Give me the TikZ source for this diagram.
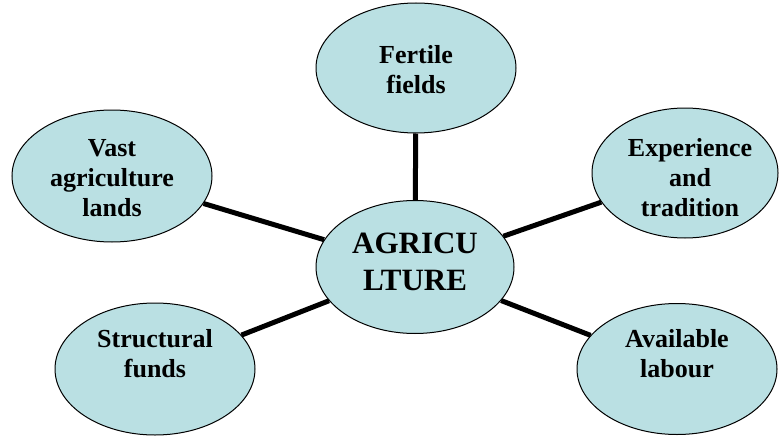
\documentclass[tikz,border=0pt]{standalone}
\usepackage{fontspec}
\setmainfont{Liberation Serif}
\usetikzlibrary{shapes.geometric}
\definecolor{bubblefill}{RGB}{186,224,227}
\tikzset{
  bubble/.style={ellipse, draw=black, line width=1pt, fill=bubblefill,
    inner sep=0pt, minimum width=200pt, minimum height=131pt},
  caption/.style={inner sep=0pt, align=center,
    font=\bfseries\fontsize{26}{30}\selectfont},
  spoke/.style={line width=5pt},
}

\begin{document}
\begin{tikzpicture}[x=1pt,y=-1pt]
  \useasboundingbox (0,0) rectangle (779,436);
  % bubbles
  \node [bubble, minimum width=198pt, minimum height=133pt] (agri) at (415,267) {};
  \node [bubble, minimum height=130pt] (fert) at (416,68) {};
  \node [bubble, minimum height=132pt] (vast) at (112,176) {};
  \node [bubble, minimum width=186pt, minimum height=130pt] (expe) at (685,173) {};
  \node [bubble, minimum height=132pt] (stru) at (155,369) {};
  \node [bubble, minimum height=131pt] (avai) at (677,369) {};
  % texts
  \node [caption, font=\bfseries\fontsize{31}{37}\selectfont] (agri-t) at (415,262) {AGRICU\\LTURE};
  \node [caption] (fert-t) at (416,70) {Fertile\\fields};
  \node [caption] (vast-t) at (112,178) {Vast\\agriculture\\lands};
  \node [caption] (expe-t) at (690,178) {Experience\\and\\tradition};
  \node [caption] (stru-t) at (155,354) {Structural\\funds};
  \node [caption] (avai-t) at (677,354) {Available\\labour};
  % spokes
  \draw [spoke] (fert) -- (agri);
  \draw [spoke] (vast) -- (agri);
  \draw [spoke] (expe) -- (agri);
  \draw [spoke] (stru) -- (agri);
  \draw [spoke] (avai) -- (agri);
\end{tikzpicture}
\end{document}
